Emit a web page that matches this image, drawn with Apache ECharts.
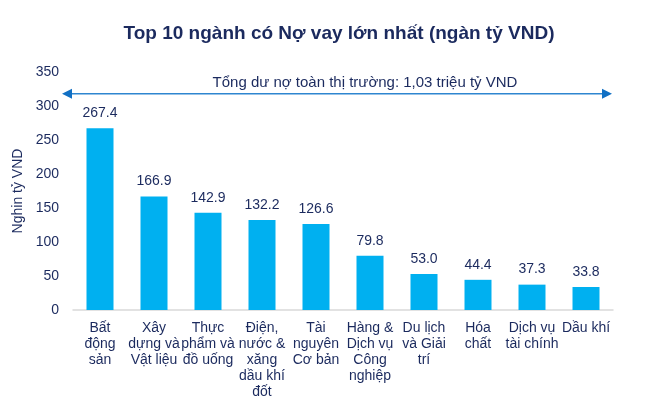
<!DOCTYPE html>
<html><head><meta charset="utf-8">
<script src="https://cdn.jsdelivr.net/npm/echarts@6/dist/echarts.min.js"></script>
<style>html,body{margin:0;padding:0;background:#fff}#c{width:650px;height:400px}</style>
</head><body><div id="c"></div>
<script>
const categories = ["Bất\nđộng\nsản", "Xây\ndựng và\nVật liệu", "Thực\nphẩm và\nđồ uống", "Điện,\nnước &\nxăng\ndầu khí\nđốt", "Tài\nnguyên\nCơ bản", "Hàng &\nDịch vụ\nCông\nnghiệp", "Du lịch\nvà Giải\ntrí", "Hóa\nchất", "Dịch vụ\ntài chính", "Dầu khí"];
const values = [267.4, 166.9, 142.9, 132.2, 126.6, 79.8, 53.0, 44.4, 37.3, 33.8];
const arrowValue = 318;
const arrowText = "Tổng dư nợ toàn thị trường: 1,03 triệu tỷ VND";
const navy = "#1B2A5E";
const font = "Liberation Sans, Arial, sans-serif";
const chart = echarts.init(document.getElementById('c'));
chart.setOption({
  animation: false,
  textStyle: {fontFamily: font},
  title: {text: "Top 10 ngành có Nợ vay lớn nhất (ngàn tỷ VND)", left: 334, textAlign: 'center', top: 19,
    textStyle: {fontSize: 19, fontWeight: 'bold', color: navy, fontFamily: font}},
  grid: {left: 73, right: 37, top: 72, bottom: 90},
  xAxis: {type: 'category', data: categories,
    axisLine: {lineStyle: {color: '#D9D9D9', width: 1.5}}, axisTick: {show: false},
    axisLabel: {interval: 0, color: navy, fontSize: 14, lineHeight: 16, margin: 10, fontFamily: font}},
  yAxis: {type: 'value', min: 0, max: 350, interval: 50,
    name: 'Nghin tỷ VND', nameLocation: 'middle', nameGap: 42, nameRotate: 90,
    nameTextStyle: {color: navy, fontSize: 14, fontFamily: font},
    axisLine: {show: false}, axisTick: {show: false}, splitLine: {show: false},
    axisLabel: {color: navy, fontSize: 14, margin: 14, fontFamily: font}},
  series: [{type: 'bar', data: values, barWidth: 27, itemStyle: {color: '#00B0F0'},
    label: {show: true, position: 'top', color: navy, fontSize: 14, distance: 8, fontFamily: font,
      formatter: p => p.value.toFixed(1)}}]
});
const y = chart.convertToPixel({yAxisIndex: 0}, arrowValue);
const x0 = 62, x1 = 612;
chart.setOption({graphic: [
  {type: 'line', shape: {x1: x0 + 8, y1: y, x2: x1 - 8, y2: y}, style: {stroke: '#2E86D0', lineWidth: 1.5}},
  {type: 'polygon', shape: {points: [[x0, y], [x0 + 10, y - 5], [x0 + 10, y + 5]]}, style: {fill: '#1170C4'}},
  {type: 'polygon', shape: {points: [[x1, y], [x1 - 10, y - 5], [x1 - 10, y + 5]]}, style: {fill: '#1170C4'}},
  {type: 'text', x: 365, y: y - 3, style: {text: arrowText, fill: navy, fontSize: 15, fontFamily: font, textAlign: 'center', textVerticalAlign: 'bottom'}}
]});
</script></body></html>
